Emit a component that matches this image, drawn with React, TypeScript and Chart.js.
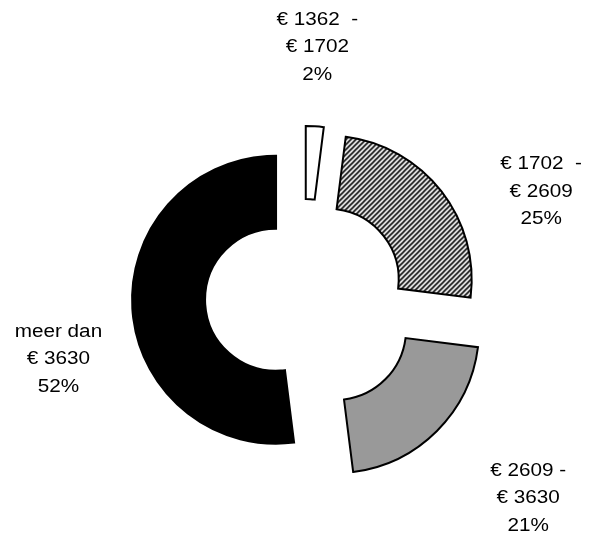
import React, { useEffect, useRef } from 'react';
import { Chart, ArcElement, DoughnutController, registerables } from 'chart.js';

// ---- data ----
const categories = ['€ 1362 - € 1702', '€ 1702 - € 2609', '€ 2609 - € 3630', 'meer dan € 3630'];
const labelLines = [
  ['€ 1362  -', '€ 1702'],
  ['€ 1702  -', '€ 2609'],
  ['€ 2609 -', '€ 3630'],
  ['meer dan', '€ 3630'],
];
const shares = [2, 25, 21, 52];

// ---- style ----
const OFFSETS = [28, 30, 44, 28];
const LABEL_GAP = 40;
const LABEL_NUDGE = [
  [0, -39],
  [68, 25],
  [63, 39],
  [-34, 48],
];
const LINE_H = 27.5;
const TEXT_SCALE_X = 1.15;
const FONT = '18px "Liberation Sans", Arial, sans-serif';

Chart.register(...registerables);

class ExplodedArc extends ArcElement {
  static id = 'explodedArc';
  draw(ctx: CanvasRenderingContext2D) {
    const self: any = this;
    const saved: any = self.options;
    const off = (saved && saved.offset) || 0;
    const half = (self.startAngle + self.endAngle) / 2;
    ctx.save();
    ctx.translate(Math.cos(half) * off, Math.sin(half) * off);
    self.options = { ...saved, offset: 0 };
    super.draw(ctx);
    self.options = saved;
    ctx.restore();
  }
}

class ExplodedDoughnut extends DoughnutController {
  static id = 'explodedDoughnut';
  static defaults = { ...(DoughnutController as any).defaults, dataElementType: 'explodedArc' };
}

Chart.register(ExplodedArc as any, ExplodedDoughnut as any);

function makeHatch(): CanvasPattern | string {
  const s = 5;
  const c = document.createElement('canvas');
  c.width = s;
  c.height = s;
  const g = c.getContext('2d');
  if (!g) return '#888';
  g.fillStyle = '#ffffff';
  g.fillRect(0, 0, s, s);
  g.strokeStyle = '#000000';
  g.lineWidth = 1.6;
  g.beginPath();
  g.moveTo(-1, s + 1);
  g.lineTo(s + 1, -1);
  g.moveTo(-1, 1);
  g.lineTo(1, -1);
  g.moveTo(s - 1, s + 1);
  g.lineTo(s + 1, s - 1);
  g.stroke();
  const p = g.createPattern(c, 'repeat');
  return p || '#888';
}

const labelPlugin = {
  id: 'sliceLabels',
  afterDatasetsDraw(chart: any) {
    const meta = chart.getDatasetMeta(0);
    const ctx: CanvasRenderingContext2D = chart.ctx;
    ctx.save();
    ctx.font = FONT;
    ctx.fillStyle = '#000000';
    ctx.textAlign = 'center';
    ctx.textBaseline = 'middle';
    meta.data.forEach((arc: any, i: number) => {
      const p = arc.getProps(['x', 'y', 'startAngle', 'endAngle', 'outerRadius'], true);
      const mid = (p.startAngle + p.endAngle) / 2;
      const dist = p.outerRadius + OFFSETS[i] + LABEL_GAP;
      const cx = p.x + Math.cos(mid) * dist + LABEL_NUDGE[i][0];
      const cy = p.y + Math.sin(mid) * dist + LABEL_NUDGE[i][1];
      const lines = [...labelLines[i], `${shares[i]}%`];
      lines.forEach((t, k) => {
        const y = cy + (k - (lines.length - 1) / 2) * LINE_H;
        ctx.save();
        ctx.translate(cx, y);
        ctx.scale(TEXT_SCALE_X, 1);
        ctx.fillText(t, 0, 0);
        ctx.restore();
      });
    });
    ctx.restore();
  },
};

export default function App() {
  const ref = useRef<HTMLCanvasElement | null>(null);
  useEffect(() => {
    if (!ref.current) return;
    const hatch = makeHatch();
    const chart = new Chart(ref.current, {
      type: 'explodedDoughnut' as any,
      data: {
        labels: categories,
        datasets: [
          {
            data: shares,
            backgroundColor: ['#ffffff', hatch, '#999999', '#000000'] as any,
            borderColor: '#000000',
            borderWidth: 2,
            borderJoinStyle: 'miter',
            offset: OFFSETS,
            hoverOffset: 0,
          } as any,
        ],
      },
      options: {
        responsive: false,
        animation: false,
        events: [],
        radius: 144,
        cutout: '49.3%',
        layout: { padding: { left: 18, right: 0, top: 57, bottom: 0 } },
        plugins: {
          legend: { display: false },
          tooltip: { enabled: false },
        },
      } as any,
      plugins: [labelPlugin],
    });
    return () => chart.destroy();
  }, []);
  return (
    <div style={{ position: 'fixed', left: 0, top: 0, width: 590, height: 539, background: '#fff' }}>
      <canvas ref={ref} width={590} height={539} style={{ width: 590, height: 539 }} />
    </div>
  );
}
